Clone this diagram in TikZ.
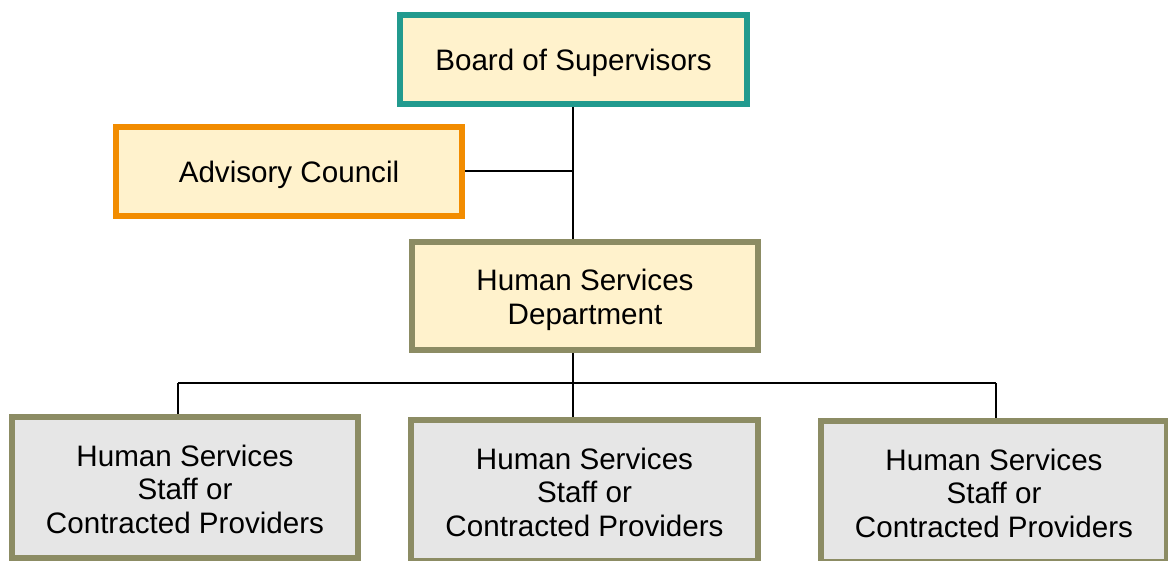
\documentclass[tikz,border=0pt]{standalone}
\usepackage{fontspec}
\setmainfont{Liberation Sans}
\definecolor{tealc}{HTML}{229A8E}
\definecolor{orangec}{HTML}{F28C00}
\definecolor{olivec}{HTML}{8C8C64}
\definecolor{yellowf}{HTML}{FFF2CC}
\definecolor{grayf}{HTML}{E6E6E6}
\pgfdeclarelayer{bg}
\pgfsetlayers{bg,main}
\begin{document}
\begin{tikzpicture}[x=1pt,y=-1pt,
  box/.style={draw, line width=6pt, rectangle, inner sep=0pt, minimum width=346pt},
  txt/.style={align=center, inner sep=0pt, font=\fontsize{29.6}{33.5}\selectfont},
  topbox/.style={box, draw=tealc, fill=yellowf},
  advbox/.style={box, draw=orangec, fill=yellowf},
  deptbox/.style={box, draw=olivec, fill=yellowf},
  staffbox/.style={box, draw=olivec, fill=grayf, minimum height=141pt},
  conn/.style={line width=2pt, black}]
\useasboundingbox (0,0) rectangle (1168,561);
\node[topbox, minimum width=347pt, minimum height=89pt,
  label={[txt, yshift=-3pt]center:Board of Supervisors}] (board) at (573.5,59.5) {};
\node[advbox, minimum height=89pt,
  label={[txt, yshift=-3pt]center:Advisory Council}] (adv) at (289,171.5) {};
\node[deptbox, minimum height=108pt,
  label={[txt, yshift=-4pt]center:Human Services\\Department}] (hsd) at (585,296) {};
\node[staffbox,
  label={[txt, yshift=-2pt]center:Human Services\\Staff or\\Contracted Providers}] (s1) at (185,487) {};
\node[staffbox, minimum width=347pt,
  label={[txt, yshift=-2pt]center:Human Services\\Staff or\\Contracted Providers}] (s2) at (584.5,490) {};
\node[staffbox,
  label={[txt, yshift=-2pt]center:Human Services\\Staff or\\Contracted Providers}] (s3) at (994,491) {};
\coordinate (b1) at (178,383);
\coordinate (b3) at (996,383);
\coordinate (spine) at (573,0);
\begin{pgfonlayer}{bg}
\draw[conn] (spine |- board.south) -- (spine |- hsd.north);
\draw[conn] (adv.east) -- (adv.east -| spine);
\draw[conn] (spine |- hsd.south) -- (spine |- s2.north);
\draw[conn] (b1) -- (b3);
\draw[conn] (b1) -- (b1 |- s1.north);
\draw[conn] (b3) -- (b3 |- s3.north);
\end{pgfonlayer}
\end{tikzpicture}
\end{document}
